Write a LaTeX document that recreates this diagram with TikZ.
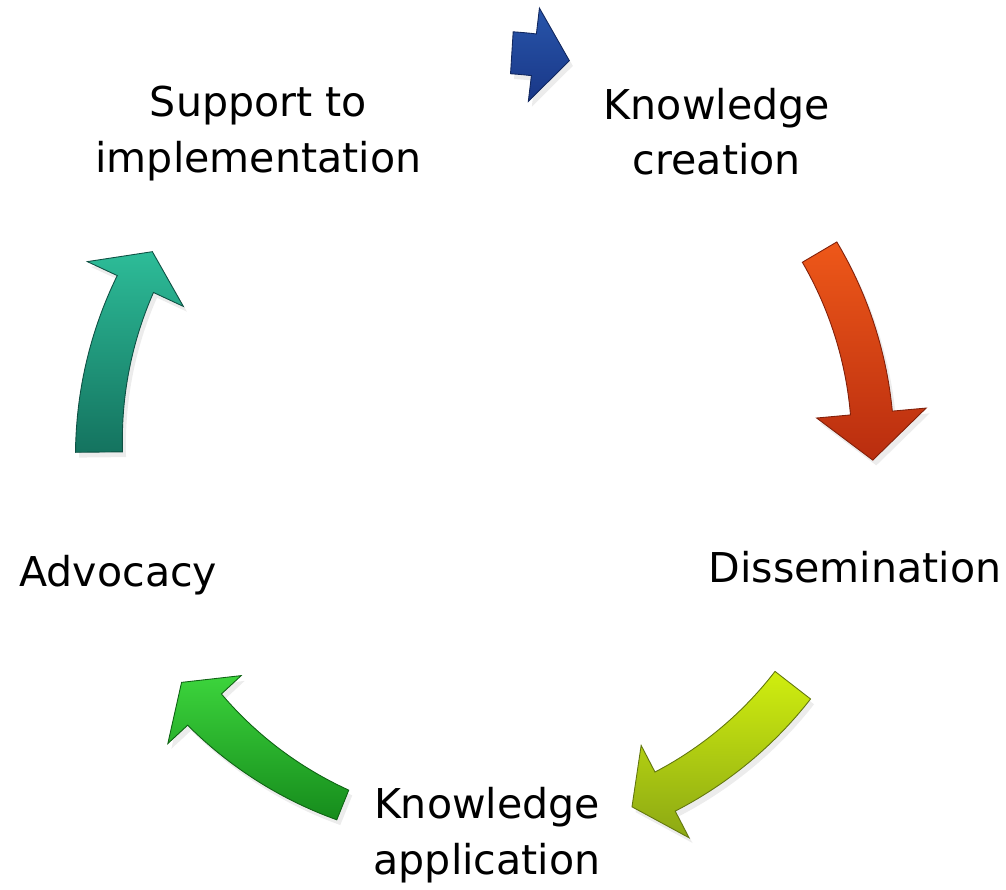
\documentclass[tikz,border=0pt]{standalone}
\usepackage{fontspec}
\setmainfont{DejaVu Sans}
\usetikzlibrary{shadows}

\definecolor{bluetop}{RGB}{40,85,170}
\definecolor{bluebot}{RGB}{25,55,135}
\definecolor{orangetop}{RGB}{238,88,25}
\definecolor{orangebot}{RGB}{185,45,15}
\definecolor{tealtop}{RGB}{45,188,152}
\definecolor{tealbot}{RGB}{20,115,95}
\definecolor{limetop}{RGB}{208,238,15}
\definecolor{limebot}{RGB}{140,168,20}
\definecolor{greentop}{RGB}{60,212,60}
\definecolor{greenbot}{RGB}{22,140,28}

\tikzset{
  cyclelabel/.style={align=center,inner sep=0pt,
    font=\fontsize{23.4pt}{31.7pt}\selectfont},
  arrowbody/.style={line width=0.5pt,
    drop shadow={shadow xshift=2pt,shadow yshift=-3pt,opacity=0.15}}
}

% curved block arrow: tail angle, base angle, tip angle, radius,
% tail half width, base half width, head half width, top colour, bottom colour
\newcommand\bentarrow[9]{%
  \path[arrowbody,top color=#8,bottom color=#9,draw=#9!70!black]
    plot[domain=#1:#2,samples=40] (\x:{#4+#5+(#6-#5)*(\x-#1)/(#2-#1)})
    -- (#2:{#4+#7}) -- (#3:#4) -- (#2:{#4-#7})
    -- plot[domain=#2:#1,samples=40] (\x:{#4-#5-(#6-#5)*(\x-#1)/(#2-#1)})
    -- cycle;}

\begin{document}
\begin{tikzpicture}[x=0.02cm,y=0.02cm]
  \useasboundingbox (-487,-441) rectangle (519,448);

  \node[cyclelabel] (creation) at (54:391) {Knowledge\\creation};
  \node[cyclelabel] (dissem) at (-18:387) {Dissemination};
  \node[cyclelabel] (applic) at (-90:387) {Knowledge\\application};
  \node[cyclelabel] (advoc) at (199:390) {Advocacy};
  \node[cyclelabel] (support) at (126:389) {Support to\\implementation};

  \bentarrow{86.4}{83.2}{78}{396}{21}{21}{47}{bluetop}{bluebot}
  \bentarrow{30.5}{5.2}{-1.8}{386}{20}{21}{55}{orangetop}{orangebot}
  \bentarrow{-37.8}{-62.6}{-68}{387}{22.5}{22}{52}{limetop}{limebot}
  \bentarrow{248}{222.8}{217.5}{385}{16}{23}{50}{greentop}{greenbot}
  \bentarrow{180.6}{155}{149.6}{388}{23.5}{20}{53}{tealtop}{tealbot}
\end{tikzpicture}
\end{document}
